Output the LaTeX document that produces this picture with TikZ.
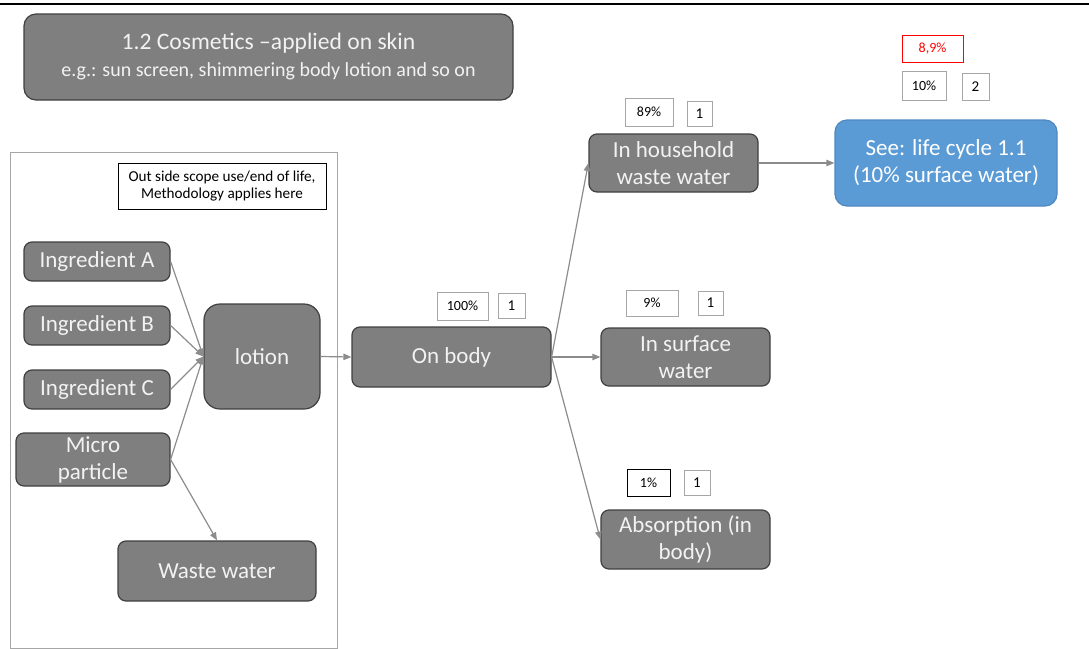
\documentclass[tikz,border=0pt]{standalone}
\usepackage{fontspec}
\setmainfont{Carlito}
\usepackage{xcolor}
\usepackage{tikz}
\usetikzlibrary{positioning, arrows.meta}
\definecolor{boxgray}{HTML}{7F7F7F}
\definecolor{boxedge}{HTML}{404040}
\definecolor{boxtext}{HTML}{F2F2F2}
\definecolor{seeblue}{HTML}{5B9BD5}
\definecolor{seeedge}{HTML}{4F88BF}
\definecolor{tagedge}{HTML}{A6A6A6}
\definecolor{flowgray}{HTML}{8C8C8C}
\definecolor{alertred}{HTML}{FF0000}

\tikzset{
  stage/.style={fill=boxgray, draw=boxedge, line width=0.6pt, rounded corners=4pt,
    text=boxtext, align=center, font=\fontsize{11.5}{13.5}\selectfont, inner sep=0pt},
  tag/.style={draw=tagedge, line width=0.5pt, fill=white, inner sep=0pt,
    font=\fontsize{7}{8}\selectfont},
  flow/.style={draw=flowgray, line width=0.6pt, -{Triangle[length=4pt, width=3.2pt]}}
}

\begin{document}
\begin{tikzpicture}[x=0.5pt, y=-0.5pt]
    \useasboundingbox (0,0) rectangle (1089,649);
    \draw[line width=0.75pt] (0,4) -- (1089,4);

    % title
    \node[stage, rounded corners=6pt, minimum width=244.5pt, minimum height=43pt] (title) at (268.5,57)
      {{\fontsize{11.8}{13}\selectfont 1.2 Cosmetics --applied on skin}\\
       {\fontsize{10}{12.5}\selectfont e.g.: sun screen, shimmering body lotion and so on}};

    % outside scope part
    \node[draw=tagedge, line width=0.5pt, minimum width=163.5pt, minimum height=248pt] (scope) at (173.5,400) {};
    \node[draw, line width=0.4pt, minimum width=104pt, minimum height=23pt, align=center,
          inner sep=0pt, font=\fontsize{7.6}{8.6}\selectfont] (note) at (222,186)
      {Out side scope use/end of life,\\Methodology applies here};

    \node[stage, minimum width=73pt, minimum height=19.5pt] (ingA) at (97,261.5) {Ingredient A};
    \node[stage, minimum width=73pt, minimum height=19.5pt] (ingB) at (97,325.5) {Ingredient B};
    \node[stage, minimum width=73pt, minimum height=19.5pt] (ingC) at (97,389.5) {Ingredient C};
    \node[stage, minimum width=77pt, minimum height=26.5pt] (micro) at (93,459.5) {Micro\\particle};
    \node[stage, rounded corners=8pt, minimum width=58pt, minimum height=52.5pt] (lotion) at (262,356.5) {lotion};
    \node[stage, minimum width=99pt, minimum height=30pt] (waste) at (217,571) {Waste water};

    % use phase
    \node[stage, minimum width=99.5pt, minimum height=30pt] (onbody) at (451.5,357) {On body};
    \node[stage, minimum width=84.5pt, minimum height=29pt] (household) at (673.5,163) {In household\\waste water};
    \node[stage, minimum width=84.5pt, minimum height=29pt] (surface) at (685.5,357) {In surface\\water};
    \node[stage, minimum width=84.5pt, minimum height=29.5pt] (absorb) at (685.5,539.5) {Absorption (in\\body)};
    \node[stage, fill=seeblue, draw=seeedge, text=white, rounded corners=6pt,
          minimum width=111pt, minimum height=43pt] (see) at (946,163) {See: life cycle 1.1\\(10\% surface water)};

    % shares
    \node[tag, minimum width=25.5pt, minimum height=14pt] (pOnbody) at (462.5,306) {100\%};
    \node[tag, minimum width=13.5pt, minimum height=12.5pt, font=\fontsize{7.5}{8}\selectfont] (kOnbody) at (511.5,305.5) {1};
    \node[tag, minimum width=24pt, minimum height=14pt] (pHouse) at (649,112) {89\%};
    \node[tag, minimum width=12.5pt, minimum height=12.5pt, font=\fontsize{7.5}{8}\selectfont] (kHouse) at (699.5,113.5) {1};
    \node[tag, minimum width=26pt, minimum height=13pt] (pSurf) at (652,303) {9\%};
    \node[tag, minimum width=12.5pt, minimum height=12pt, font=\fontsize{7.5}{8}\selectfont] (kSurf) at (710.5,303) {1};
    \node[tag, draw=black, minimum width=21.5pt, minimum height=13.5pt] (pAbs) at (648.5,482.5) {1\%};
    \node[tag, minimum width=13pt, minimum height=12.5pt, font=\fontsize{7.5}{8}\selectfont] (kAbs) at (697,482.5) {1};
    \node[tag, draw=alertred, text=alertred, minimum width=30.5pt, minimum height=13.5pt] (pRed) at (932.5,48.5) {8,9\%};
    \node[tag, minimum width=22pt, minimum height=14.5pt] (pSee) at (924,85.5) {10\%};
    \node[tag, minimum width=13.5pt, minimum height=13.5pt, font=\fontsize{7.5}{8}\selectfont] (kSee) at (975.5,86.5) {2};

    % flows
    \draw[flow] (ingA.east) -- (lotion.west);
    \draw[flow] (ingB.east) -- (lotion.west);
    \draw[flow] (ingC.east) -- (lotion.west);
    \draw[flow] (micro.east) -- (lotion.west);
    \draw[flow] (micro.east) -- (waste.north);
    \draw[flow] (lotion.east) -- (onbody.west);
    \draw[flow] (onbody.east) -- (household.west);
    \draw[flow] (onbody.east) -- (surface.west);
    \draw[flow] (onbody.east) -- (absorb.west);
    \draw[flow] (household.east) -- (see.west);
  \end{tikzpicture}
\end{document}
